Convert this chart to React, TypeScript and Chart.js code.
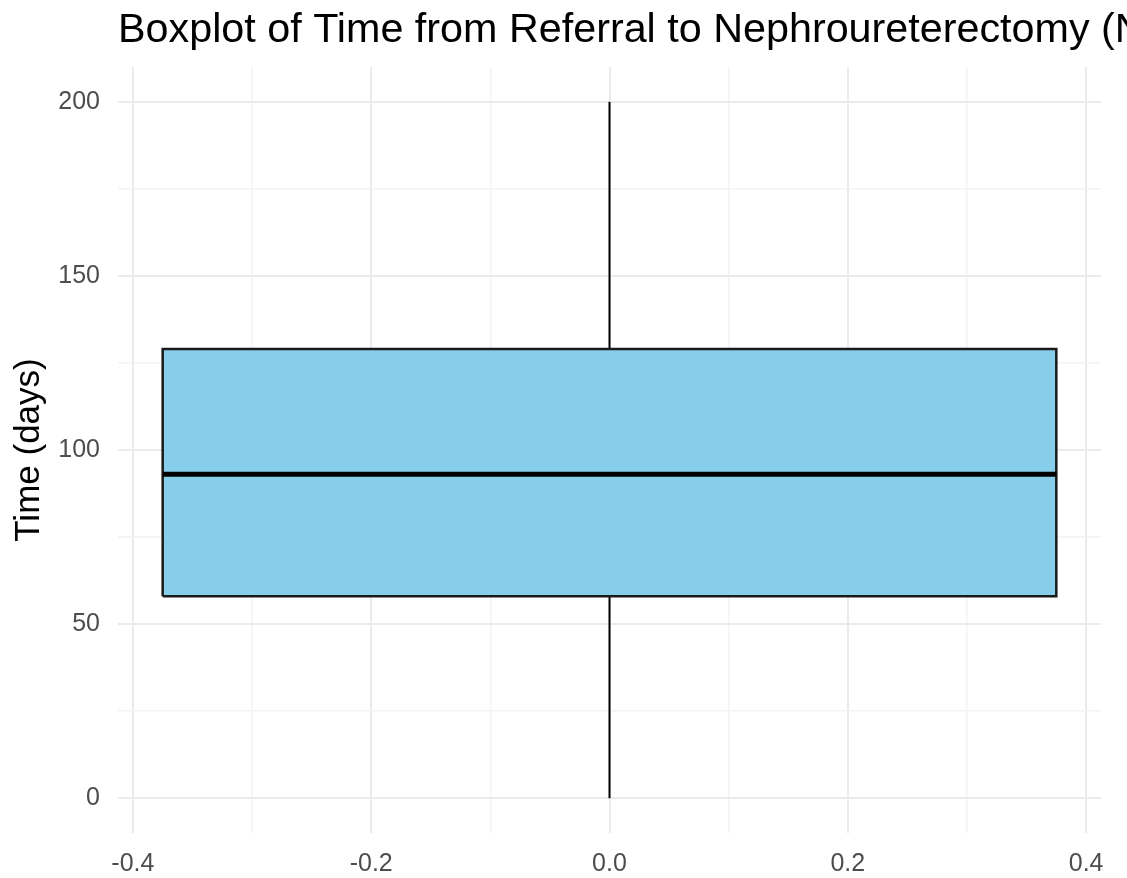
import { useEffect, useRef } from "react";
import { Chart, registerables } from "chart.js";

Chart.register(...registerables);

const titleText = "Boxplot of Time from Referral to Nephroureterectomy (N";
const yAxisTitle = "Time (days)";

// box statistics (days)
const boxCenter = 0;
const boxHalfWidth = 0.375;
const whiskerLow = 0;
const q1 = 58;
const median = 93;
const q3 = 129;
const whiskerHigh = 200;

const yMajorTicks = [0, 50, 100, 150, 200];
const yMinorTicks = [25, 75, 125, 175];
const xMajorTicks = [-0.4, -0.2, 0.0, 0.2, 0.4];
const xMinorTicks = [-0.3, -0.1, 0.1, 0.3];
const xRange = [-0.4125, 0.4125];
const yRange = [-10, 210];

const FONT = '"Liberation Sans", Arial, Helvetica, sans-serif';

const isIn = (arr: number[], v: number) => arr.some((t) => Math.abs(t - v) < 1e-9);

const titlePlugin = {
  id: "leftTitle",
  afterDraw(chart: any) {
    const ctx = chart.ctx;
    ctx.save();
    ctx.font = `41.3px ${FONT}`;
    ctx.fillStyle = "#000000";
    ctx.textAlign = "left";
    ctx.textBaseline = "alphabetic";
    ctx.fillText(titleText, chart.chartArea.left, 42);
    ctx.restore();
  },
};

export default function App() {
  const ref = useRef<HTMLCanvasElement | null>(null);

  useEffect(() => {
    if (!ref.current) return;
    const left = boxCenter - boxHalfWidth;
    const right = boxCenter + boxHalfWidth;
    const chart = new Chart(ref.current, {
      type: "scatter",
      data: {
        datasets: [
          {
            data: [
              { x: left, y: median },
              { x: right, y: median },
            ],
            order: 0,
            showLine: true,
            borderColor: "#000000",
            borderWidth: 5,
            borderCapStyle: "butt",
            pointRadius: 0,
          },
          {
            data: [
              { x: left, y: q1 },
              { x: right, y: q1 },
              { x: right, y: q3 },
              { x: left, y: q3 },
              { x: left, y: q1 },
            ],
            order: 1,
            showLine: true,
            fill: "shape",
            backgroundColor: "#87CEEB",
            borderColor: "#1a1a1a",
            borderWidth: 2.5,
            borderJoinStyle: "miter",
            pointRadius: 0,
          } as any,
          {
            data: [
              { x: boxCenter, y: q3 },
              { x: boxCenter, y: whiskerHigh },
            ],
            order: 2,
            showLine: true,
            borderColor: "#000000",
            borderWidth: 2,
            pointRadius: 0,
          },
          {
            data: [
              { x: boxCenter, y: whiskerLow },
              { x: boxCenter, y: q1 },
            ],
            order: 2,
            showLine: true,
            borderColor: "#000000",
            borderWidth: 2,
            pointRadius: 0,
          },
        ],
      },
      options: {
        animation: false,
        responsive: false,
        maintainAspectRatio: false,
        layout: { padding: { top: 67, right: 26, left: 0, bottom: 0 } },
        plugins: {
          legend: { display: false },
          tooltip: { enabled: false },
          title: { display: false },
        },
        scales: {
          x: {
            type: "linear",
            min: xRange[0],
            max: xRange[1],
            afterBuildTicks: (s: any) => {
              s.ticks = [...xMajorTicks, ...xMinorTicks]
                .sort((a, b) => a - b)
                .map((v) => ({ value: v }));
            },
            afterFit: (s: any) => {
              s.height = 45;
            },
            border: { display: false },
            grid: {
              drawTicks: false,
              color: (c: any) => (isIn(xMajorTicks, c.tick?.value) ? "#EBEBEB" : "#F3F3F3"),
              lineWidth: (c: any) => (isIn(xMajorTicks, c.tick?.value) ? 2 : 1.5),
            },
            ticks: {
              autoSkip: false,
              maxRotation: 0,
              padding: 16,
              color: "#4D4D4D",
              font: { family: FONT, size: 25 },
              callback: (v: any) => (isIn(xMajorTicks, Number(v)) ? Number(v).toFixed(1) : ""),
            },
          },
          y: {
            type: "linear",
            min: yRange[0],
            max: yRange[1],
            afterBuildTicks: (s: any) => {
              s.ticks = [...yMajorTicks, ...yMinorTicks]
                .sort((a, b) => a - b)
                .map((v) => ({ value: v }));
            },
            afterFit: (s: any) => {
              s.width = 118;
            },
            border: { display: false },
            grid: {
              drawTicks: false,
              color: (c: any) => (isIn(yMajorTicks, c.tick?.value) ? "#EBEBEB" : "#F3F3F3"),
              lineWidth: (c: any) => (isIn(yMajorTicks, c.tick?.value) ? 2 : 1.5),
            },
            ticks: {
              autoSkip: false,
              padding: 18,
              color: "#4D4D4D",
              font: { family: FONT, size: 25 },
              callback: (v: any) => (isIn(yMajorTicks, Number(v)) ? String(v) : ""),
            },
            title: {
              display: true,
              text: yAxisTitle,
              color: "#000000",
              font: { family: FONT, size: 35 },
              padding: { top: 8, bottom: 0 },
            },
          },
        },
      },
      plugins: [titlePlugin],
    });
    return () => chart.destroy();
  }, []);

  return (
    <div style={{ position: "absolute", left: 0, top: 0, width: 1127, height: 878, background: "#ffffff" }}>
      <canvas ref={ref} width={1127} height={878} style={{ display: "block" }} />
    </div>
  );
}
